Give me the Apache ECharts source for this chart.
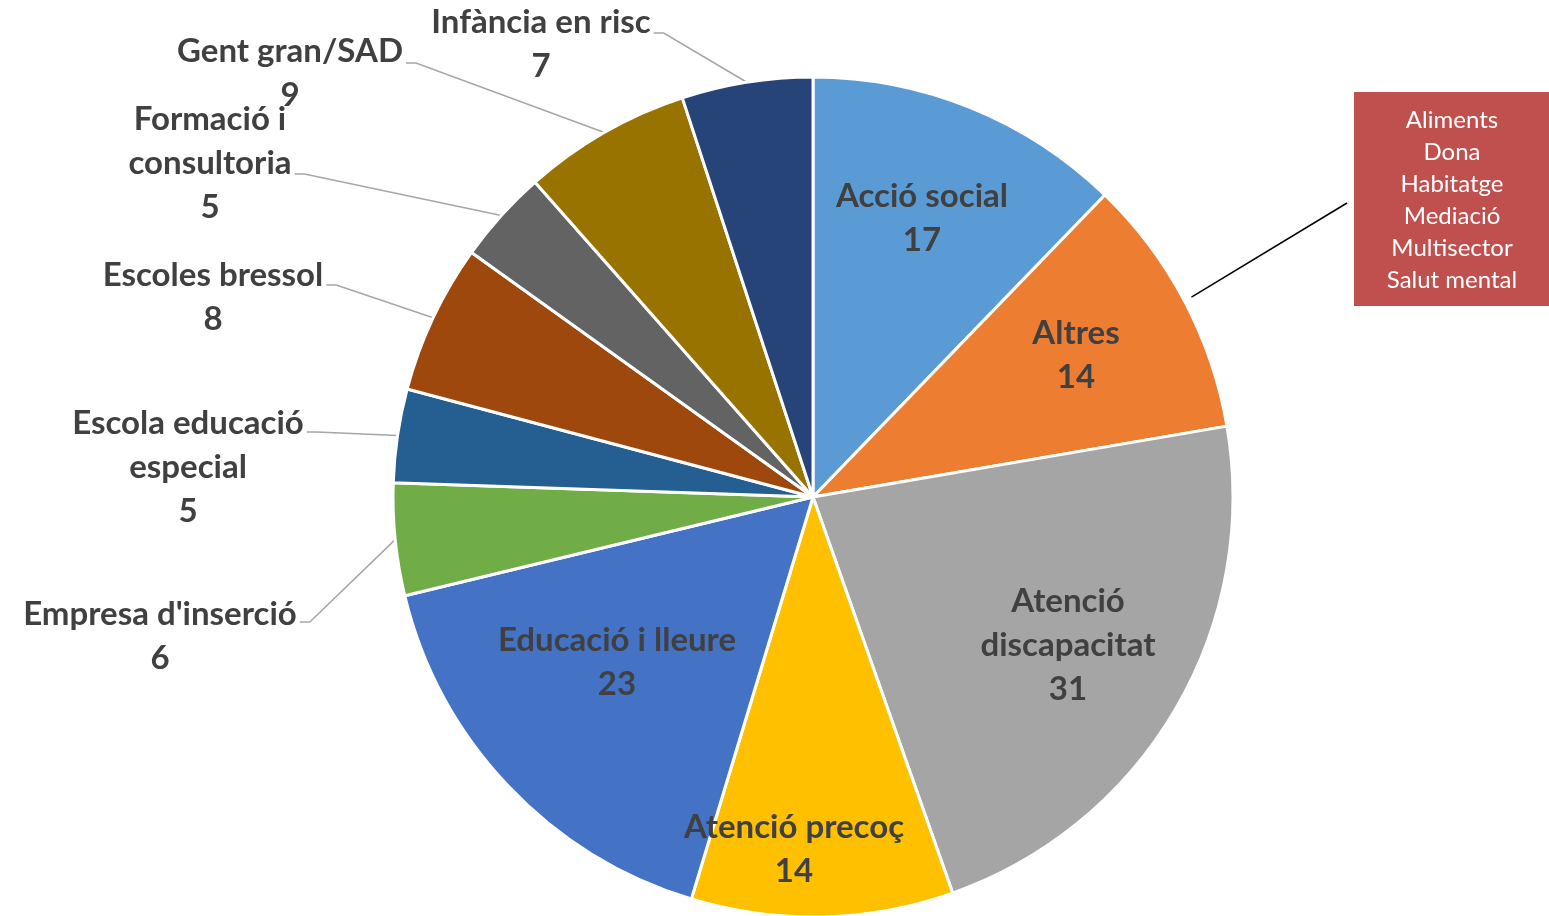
<!DOCTYPE html>
<html>
<head>
<meta charset="utf-8">
<script src="https://cdn.jsdelivr.net/npm/echarts@6/dist/echarts.min.js"></script>
<style>
  html, body { margin: 0; padding: 0; background: #fff; }
  #chart { width: 1549px; height: 916px; }
</style>
</head>
<body>
<div id="chart"></div>
<script>
// sectors, clockwise from 12 o'clock
const categories = ['Acció social', 'Altres', 'Atenció discapacitat', 'Atenció precoç', 'Educació i lleure',
    "Empresa d'inserció", 'Escola educació especial', 'Escoles bressol', 'Formació i consultoria',
    'Gent gran/SAD', 'Infància en risc']
const counts = [17, 14, 31, 14, 23, 6, 5, 8, 5, 9, 7]
// what is inside "Altres"
const altresGroups = ['Aliments', 'Dona', 'Habitatge', 'Mediació', 'Multisector', 'Salut mental']

const colors = ['#5B9BD5', '#ED7D31', '#A5A5A5', '#FFC000', '#4472C4', '#70AD47',
    '#255E91', '#9E480E', '#636363', '#997300', '#264478']
// label block centre, plus leader line y for the outside ones
const labelSpots = [
    [922, 218], [1076, 355], [1068, 645], [794, 849], [617, 662],
    [160, 636, 622], [188, 467, 432], [213, 297, 285], [210, 163, 174], [290, 73, 63], [541, 44, 33]
]
const wraps = {
    'Atenció discapacitat': 'Atenció\ndiscapacitat',
    'Escola educació especial': 'Escola educació\nespecial',
    'Formació i consultoria': 'Formació i\nconsultoria'
}

const cx = 813, cy = 497, R = 420
const total = counts.reduce((a, b) => a + b, 0)
// leader from the red box goes to the middle of "Altres"
const altresMid = (counts[0] + counts[1] / 2) / total * 2 * Math.PI
const pointerStart = [cx + (R + 8) * Math.sin(altresMid), cy - (R + 8) * Math.cos(altresMid)]

const chart = echarts.init(document.getElementById('chart'))
chart.setOption({
    animation: false,
    graphic: [
        {
            type: 'line',
            shape: { x1: pointerStart[0], y1: pointerStart[1], x2: 1347, y2: 203 },
            style: { stroke: '#000', lineWidth: 1.5 }
        },
        {
            type: 'rect',
            shape: { x: 1354, y: 92, width: 195, height: 214 },
            style: { fill: '#C0504D' }
        },
        {
            type: 'text',
            x: 1452,
            y: 200,
            style: {
                text: altresGroups.join('\n'),
                fill: '#fff',
                fontFamily: 'Lato',
                fontSize: 24,
                lineHeight: 32,
                align: 'center',
                verticalAlign: 'middle'
            }
        }
    ],
    series: [{
        type: 'pie',
        center: [cx, cy],
        radius: R,
        startAngle: 90,
        clockwise: true,
        avoidLabelOverlap: false,
        emphasis: { disabled: true },
        data: categories.map((name, i) => ({
            name,
            value: counts[i],
            itemStyle: { color: colors[i] },
            labelLine: { show: labelSpots[i].length > 2 }
        })),
        itemStyle: { borderColor: '#fff', borderWidth: 3 },
        label: {
            show: true,
            position: 'outside',
            formatter: p => (wraps[p.name] || p.name) + '\n' + p.value,
            color: '#404040',
            fontFamily: 'Lato',
            fontWeight: 'bold',
            fontSize: 33,
            lineHeight: 44,
            align: 'center'
        },
        labelLine: {
            length: 10,
            length2: 10,
            lineStyle: { color: '#A6A6A6', width: 1.5 }
        },
        labelLayout: function (p) {
            const s = labelSpots[p.dataIndex]
            const out = { x: s[0], y: s[1], align: 'center', verticalAlign: 'middle' }
            if (s.length > 2 && p.labelLinePoints) {
                const endX = s[0] + p.labelRect.width / 2 + 3
                out.labelLinePoints = [p.labelLinePoints[0], [endX + 10, s[2]], [endX, s[2]]]
            }
            return out
        }
    }]
})
</script>
</body>
</html>
